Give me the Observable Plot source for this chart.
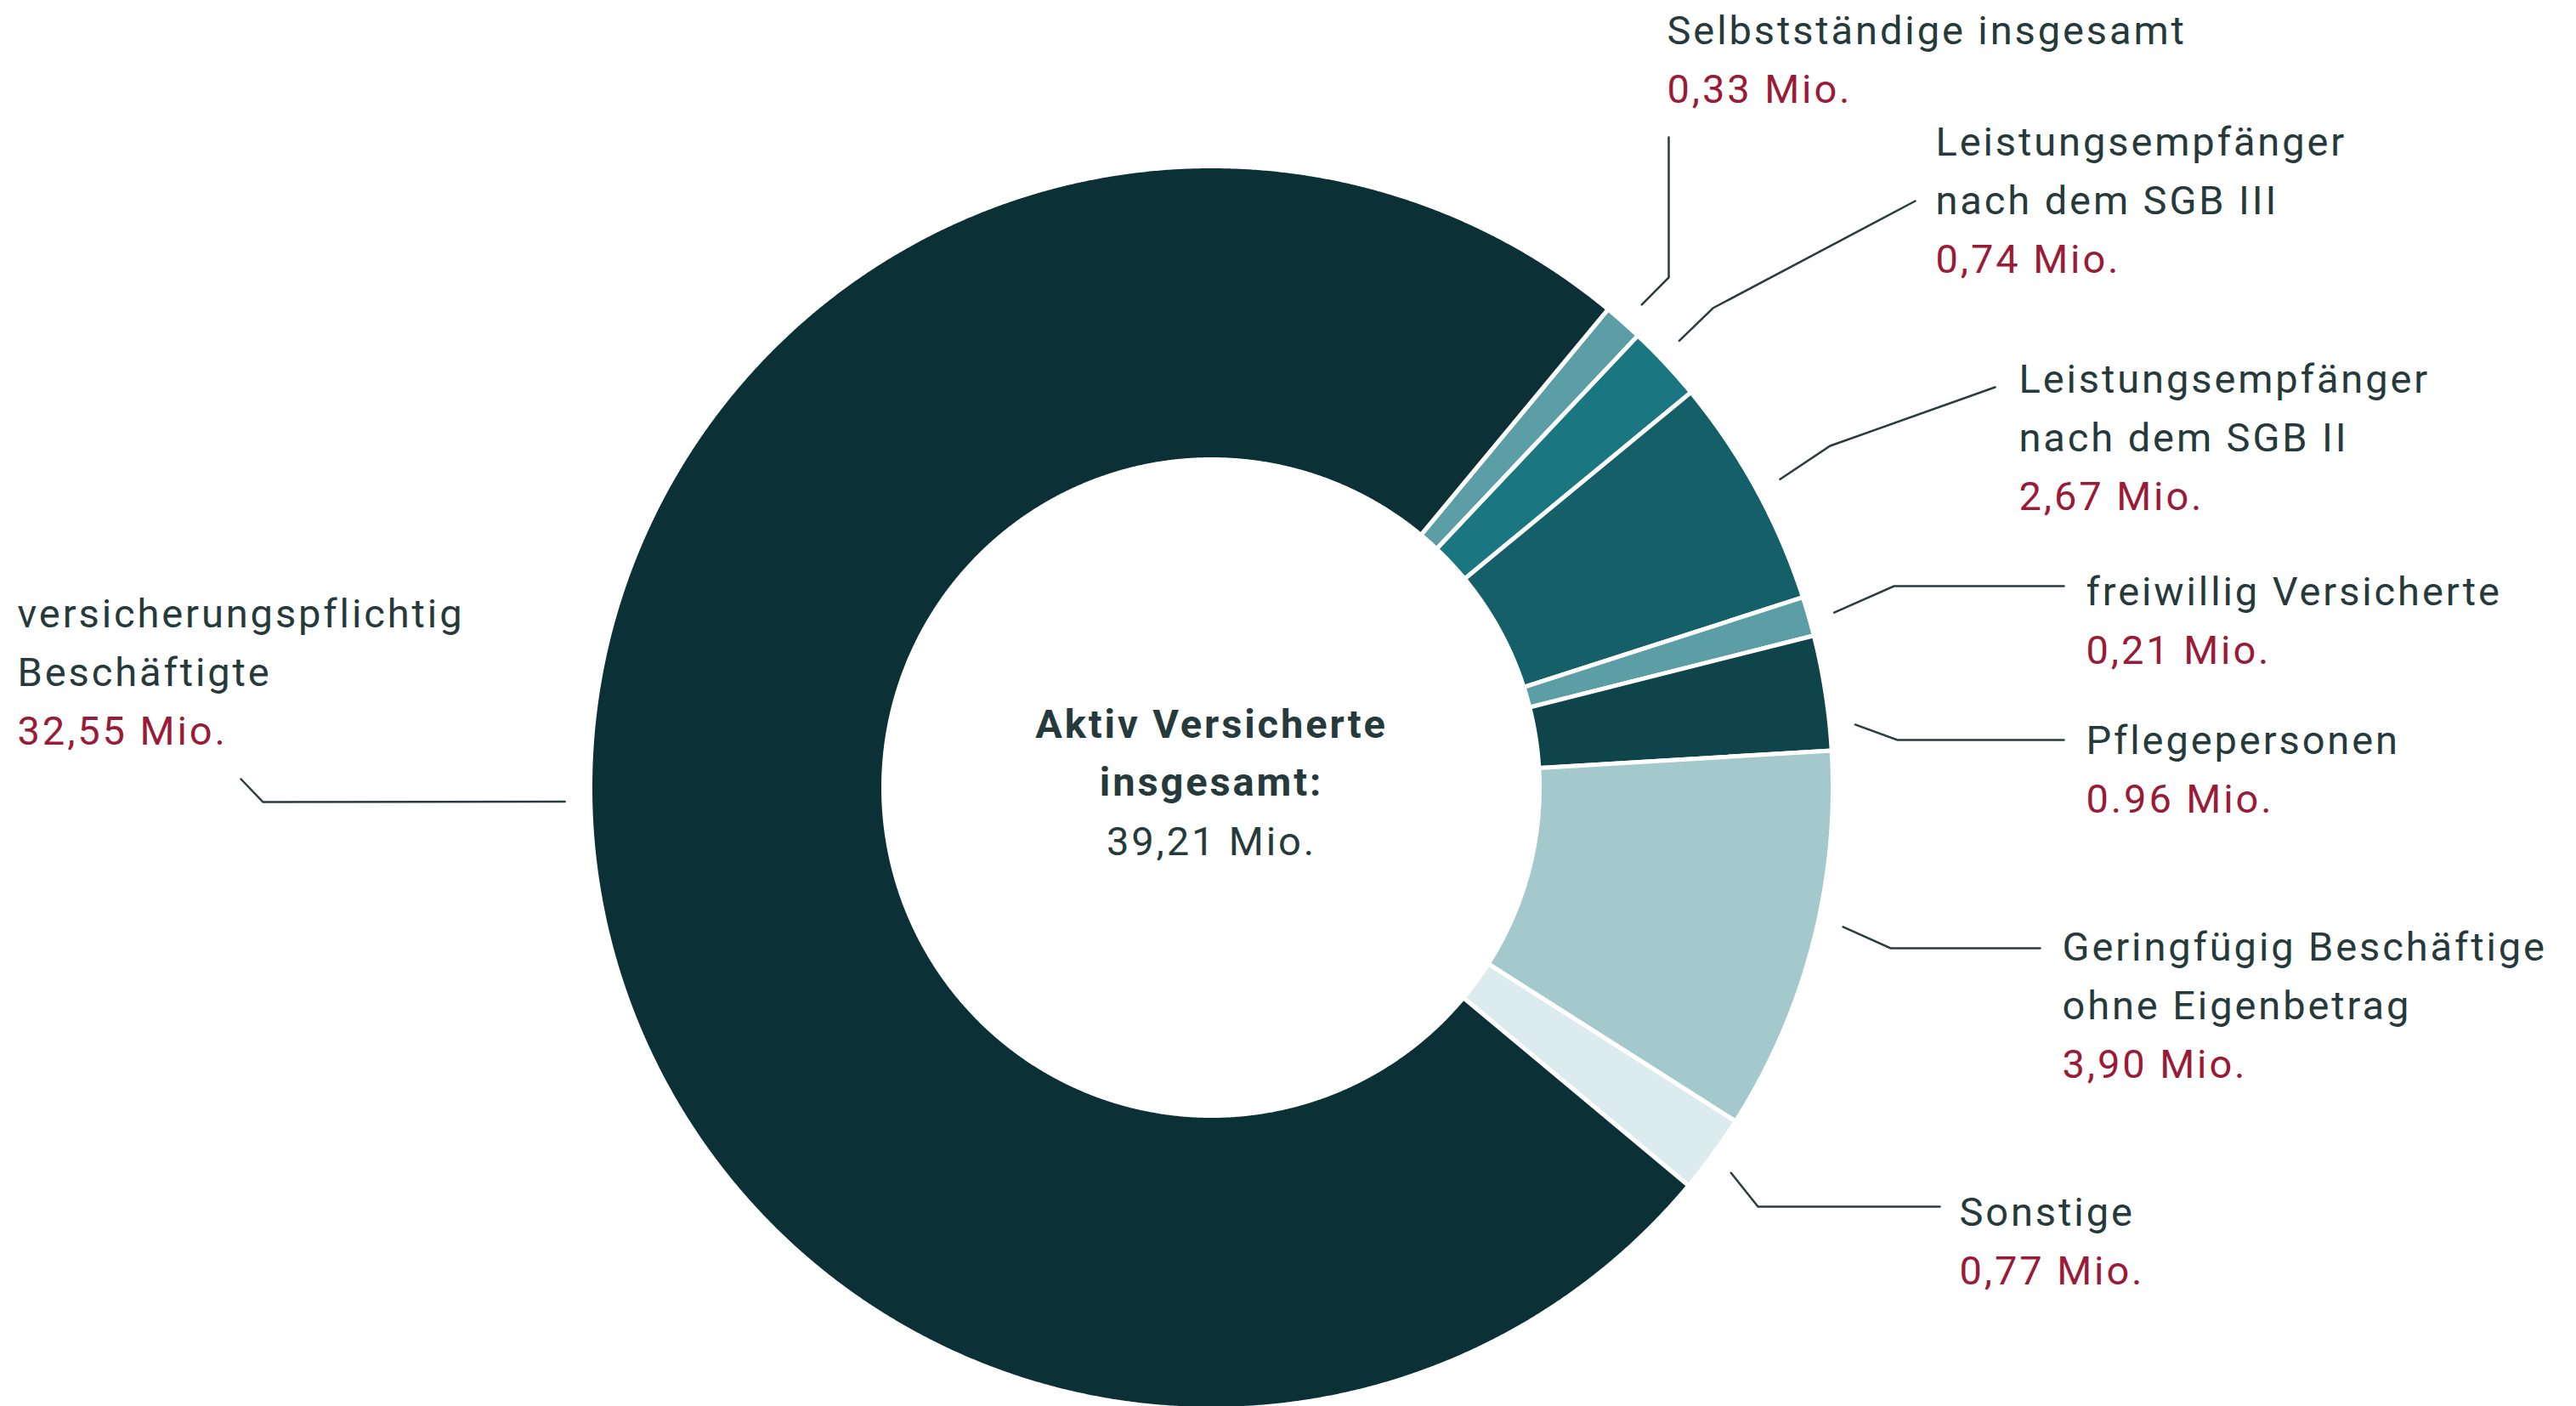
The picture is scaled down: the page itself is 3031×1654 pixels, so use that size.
<!DOCTYPE html>
<html>
<head>
<meta charset="utf-8">
<script src="https://cdn.jsdelivr.net/npm/d3@7"></script>
<script src="https://cdn.jsdelivr.net/npm/@observablehq/plot@0.6"></script>
<style>
  html, body { margin: 0; padding: 0; background: #ffffff; }
  #chart svg { display: block; }
  #chart svg text { letter-spacing: 2.9px; }
</style>
</head>
<body>
<div id="chart"></div>
<script>
// ---------------- DATA ----------------
const categories = [
  "Selbstständige insgesamt",
  "Leistungsempfänger nach dem SGB III",
  "Leistungsempfänger nach dem SGB II",
  "freiwillig Versicherte",
  "Pflegepersonen",
  "Geringfügig Beschäftige ohne Eigenbetrag",
  "Sonstige",
  "versicherungspflichtig Beschäftigte"
];
const nameLines = [
  ["Selbstständige insgesamt"],
  ["Leistungsempfänger", "nach dem SGB III"],
  ["Leistungsempfänger", "nach dem SGB II"],
  ["freiwillig Versicherte"],
  ["Pflegepersonen"],
  ["Geringfügig Beschäftige", "ohne Eigenbetrag"],
  ["Sonstige"],
  ["versicherungspflichtig", "Beschäftigte"]
];
const valueLabels = ["0,33 Mio.", "0,74 Mio.", "2,67 Mio.", "0,21 Mio.", "0.96 Mio.", "3,90 Mio.", "0,77 Mio.", "32,55 Mio."];
// slice sizes as drawn in the reference (Mio.)
const sliceValues = [0.40, 0.78, 2.36, 0.40, 1.17, 3.91, 0.80, 29.39];
const sliceColors = ["#5b9ea5", "#1a7681", "#155f68", "#5b9ea5", "#0f444b", "#a3c9cd", "#dcebed", "#0b3036"];
const centerTitle = ["Aktiv Versicherte", "insgesamt:"];
const centerValue = "39,21 Mio.";

// ---------------- LAYOUT ----------------
const W = 3031, H = 1654;
const CX = 1425, CY = 926, R_OUT = 731, R_IN = 386, R_LEAD = 761;
const START_DEG = 39.67;
const LINE_H = 69;
const FONT = 47;
// label block: left x, first baseline y
const labelPos = [
  [1961, 51], [2277, 182], [2375, 461], [2454, 711],
  [2454, 886], [2426, 1129], [2305, 1441], [20, 737]
];
// leader: angle nudge (deg), elbow point, end point
const leaderNudge = [0.2, -0.6, 0.2, 0.3, 3.2, -2.1, 0.4, 4.0];
const leaderElbow = [[1963, 326], [2015, 362], [2153, 524], [2228, 689], [2232, 870], [2224, 1115], [2068, 1419], [309, 943]];
const leaderEnd = [[1963, 161], [2253, 236], [2347, 455], [2428, 689], [2428, 870], [2400, 1115], [2282, 1419], [283, 916]];

const TEXT_DARK = "#263a3c", TEXT_RED = "#9a1b37", LINE_COL = "#2b3c3e";

// ---------------- BUILD ----------------
const rad = d => d * Math.PI / 180;
const pie = d3.pie().sort(null).value(d => d)
  .startAngle(rad(START_DEG)).endAngle(rad(START_DEG) + 2 * Math.PI);
const arcs = pie(sliceValues);
const px = (r, a) => CX + r * Math.sin(a);
const py = (r, a) => CY - r * Math.cos(a);

const slicePts = [];
arcs.forEach((a, i) => {
  const n = Math.max(2, Math.ceil((a.endAngle - a.startAngle) / rad(0.2)));
  const pts = [];
  for (let k = 0; k <= n; k++) { const t = a.startAngle + (a.endAngle - a.startAngle) * k / n; pts.push([px(R_OUT, t), py(R_OUT, t)]); }
  for (let k = n; k >= 0; k--) { const t = a.startAngle + (a.endAngle - a.startAngle) * k / n; pts.push([px(R_IN, t), py(R_IN, t)]); }
  pts.push(pts[0]);
  pts.forEach(p => slicePts.push({cat: categories[i], x: p[0], y: p[1]}));
});

const leaderPts = [];
arcs.forEach((a, i) => {
  const m = (a.startAngle + a.endAngle) / 2 + rad(leaderNudge[i]);
  leaderPts.push({i, x: px(R_LEAD, m), y: py(R_LEAD, m)});
  leaderPts.push({i, x: leaderElbow[i][0], y: leaderElbow[i][1]});
  leaderPts.push({i, x: leaderEnd[i][0], y: leaderEnd[i][1]});
});

const darkText = [], redText = [];
nameLines.forEach((lines, i) => {
  lines.forEach((t, k) => darkText.push({x: labelPos[i][0], y: labelPos[i][1] + k * LINE_H, text: t}));
  redText.push({x: labelPos[i][0], y: labelPos[i][1] + lines.length * LINE_H, text: valueLabels[i]});
});
const centerBold = centerTitle.map((t, k) => ({x: CX, y: 867 + k * 68, text: t}));
const centerReg = [{x: CX, y: 867 + 2 * 69, text: centerValue}];

const chart = Plot.plot({
  width: W, height: H, margin: 0,
  x: {domain: [0, W], range: [0, W], axis: null},
  y: {domain: [0, H], range: [0, H], axis: null},
  color: {domain: categories, range: sliceColors},
  style: {fontFamily: "Roboto, 'Open Sans', sans-serif", background: "#ffffff", overflow: "visible"},
  marks: [
    Plot.line(slicePts, {x: "x", y: "y", z: "cat", fill: "cat", stroke: "#ffffff", strokeWidth: 5, strokeLinejoin: "miter", strokeMiterlimit: 4, curve: "linear"}),
    Plot.line(leaderPts, {x: "x", y: "y", z: "i", stroke: LINE_COL, strokeWidth: 2.5, strokeLinejoin: "miter", strokeMiterlimit: 4, curve: "linear"}),
    Plot.text(darkText, {x: "x", y: "y", text: "text", textAnchor: "start", lineAnchor: "bottom", fill: TEXT_DARK, fontSize: FONT}),
    Plot.text(redText, {x: "x", y: "y", text: "text", textAnchor: "start", lineAnchor: "bottom", fill: TEXT_RED, fontSize: FONT}),
    Plot.text(centerBold, {x: "x", y: "y", text: "text", textAnchor: "middle", lineAnchor: "bottom", fill: TEXT_DARK, fontSize: FONT, fontWeight: "bold"}),
    Plot.text(centerReg, {x: "x", y: "y", text: "text", textAnchor: "middle", lineAnchor: "bottom", fill: TEXT_DARK, fontSize: FONT})
  ]
});
document.getElementById("chart").appendChild(chart);
</script>
</body>
</html>
